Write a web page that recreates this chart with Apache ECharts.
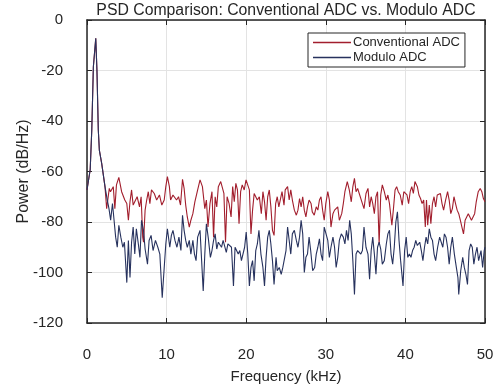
<!DOCTYPE html>
<html>
<head>
<meta charset="UTF-8">
<title>PSD Comparison</title>
<script src="https://cdn.jsdelivr.net/npm/echarts@6/dist/echarts.min.js"></script>
<style>
html, body { margin: 0; padding: 0; background: #fff; }
#main { width: 503px; height: 389px; }
</style>
</head>
<body>
<div id="main"></div>
<script>
// frequency (kHz) and power (dB/Hz)
var convFreq = [0, 0.4, 0.6, 0.8, 1.1, 1.25, 1.42, 1.55, 1.84, 2.26, 2.47, 2.8, 2.95, 3.3, 3.5, 3.7, 4.0, 4.35, 4.55, 4.75,
	5.0, 5.2, 5.4, 5.6, 5.8, 6.0, 6.3, 6.6, 6.8, 7.0, 7.1, 7.3, 7.5, 7.7, 7.9, 8.1, 8.45, 8.75, 9.1, 9.4,
	9.7, 9.9, 10.1, 10.35, 10.5, 10.8, 11.0, 11.25, 11.5, 11.75, 12.0, 12.2, 12.4, 12.6, 12.85, 13.05, 13.3, 13.55, 13.85, 14.2,
	14.5, 14.8, 15.0, 15.2, 15.45, 15.7, 15.9, 16.1, 16.3, 16.5, 16.8, 17.0, 17.2, 17.4, 17.6, 17.85, 18.1, 18.3, 18.5, 18.7,
	18.9, 19.1, 19.3, 19.5, 19.75, 19.98, 20.2, 20.4, 20.6, 20.8, 21.0, 21.2, 21.4, 21.65, 21.9, 22.1, 22.3, 22.5, 22.7, 22.9,
	23.1, 23.3, 23.5, 23.7, 23.9, 24.1, 24.3, 24.5, 24.75, 24.9, 25.2, 25.4, 25.6, 25.8, 26.05, 26.3, 26.5, 26.7, 26.9, 27.1,
	27.3, 27.5, 27.7, 27.9, 28.15, 28.3, 28.55, 28.8, 29.0, 29.2, 29.4, 29.6, 29.8, 30.0, 30.25, 30.45, 30.65, 30.9, 31.1, 31.3,
	31.5, 31.7, 32.0, 32.2, 32.4, 32.7, 32.95, 33.2, 33.4, 33.6, 33.8, 34.0, 34.2, 34.4, 34.6, 34.8, 35.05, 35.3, 35.5, 35.7,
	35.9, 36.1, 36.3, 36.5, 36.7, 36.9, 37.1, 37.35, 37.6, 37.8, 38.0, 38.2, 38.3, 38.5, 38.7, 38.9, 39.1, 39.35, 39.6, 39.8,
	40.0, 40.2, 40.4, 40.6, 40.8, 41.0, 41.2, 41.5, 41.7, 41.9, 42.1, 42.3, 42.5, 42.65, 42.8, 43.0, 43.2, 43.4, 43.6, 43.8,
	44.0, 44.2, 44.4, 44.6, 44.8, 45.05, 45.3, 45.5, 45.7, 45.9, 46.1, 46.3, 46.5, 46.7, 46.9, 47.1, 47.3, 47.5, 47.7, 47.9,
	48.1, 48.3, 48.5, 48.7, 48.9, 49.15, 49.4, 49.6, 49.8, 50.0];
var convPsd = [-67.3, -59.3, -43.6, -18.5, -7.2, -20, -43.6, -51.5, -56.7, -66, -74.7, -66.7, -68, -66, -74.7, -65.3, -62.3, -68, -67.3, -71.3,
	-72.7, -79.3, -72, -67.3, -73.3, -72.7, -70, -74, -70, -86, -88, -75.3, -71.3, -68, -72.7, -67.3, -68.7, -71.3, -69.3, -73.3,
	-71.3, -66, -62, -66, -71.3, -69.3, -70, -71.3, -70, -73.3, -63.1, -66.7, -73.3, -78, -82, -79.3, -76.7, -72, -68, -63.3,
	-66, -74.7, -71.3, -82, -72.7, -68, -86, -70, -74, -66, -64, -64, -68.7, -88, -70, -72.7, -78, -66, -72, -64.7,
	-67.3, -80.7, -68, -65.3, -67.3, -63.3, -64, -67.3, -84.7, -75.3, -68.7, -68, -71.3, -70, -76.7, -68, -72, -79.3, -70, -67.3,
	-74, -83.3, -85.3, -72.7, -70, -74, -74.7, -68, -73.3, -67.3, -66, -71.3, -67.3, -71.3, -75.3, -77.3, -75.3, -70.7, -74, -70,
	-75.3, -78, -74, -71.3, -72.7, -76, -77.3, -74, -75.3, -71.3, -70, -75.3, -79.3, -72.7, -68, -71.3, -82, -76.7, -75.3, -76,
	-74, -79.3, -76.7, -72.7, -68, -64, -67.3, -72, -66, -62.7, -68, -66.7, -68.7, -68, -72.7, -74.7, -68.7, -66.7, -74, -70,
	-72.7, -76.7, -70, -68, -88.7, -69.3, -65.3, -68, -71.3, -69.3, -72.7, -72, -81.3, -74.7, -67.3, -66, -68, -69.3, -73.3, -68,
	-67.3, -69.3, -72.7, -68, -66, -68.7, -64, -66, -69.3, -70.7, -72.7, -71.3, -82, -71.3, -81.3, -73.3, -80.7, -72.7, -70, -74,
	-69.3, -70, -68.7, -72.7, -75.3, -71.3, -68, -71.3, -76.7, -74.7, -70, -72.7, -75.3, -76.7, -79.3, -82, -84.7, -79.3, -78.7, -76.7,
	-76.7, -79.3, -80, -76.7, -72, -68, -66.7, -68, -70.7, -72];

var moduloFreq = [0, 0.4, 0.6, 0.8, 1.1, 1.25, 1.42, 1.55, 1.84, 2.26, 2.55, 2.76, 2.97, 3.2, 3.4, 3.6, 3.8, 4.0, 4.25, 4.5,
	4.7, 5.0, 5.2, 5.4, 5.6, 5.8, 6.0, 6.2, 6.45, 6.65, 6.85, 7.1, 7.3, 7.6, 7.8, 8.05, 8.3, 8.6, 8.9, 9.15,
	9.45, 9.7, 9.9, 10.1, 10.4, 10.6, 10.8, 11.05, 11.3, 11.55, 11.8, 12.0, 12.2, 12.4, 12.6, 12.85, 13.05, 13.3, 13.5, 13.7,
	13.9, 14.2, 14.4, 14.6, 14.8, 15.0, 15.25, 15.5, 15.7, 15.9, 16.1, 16.3, 16.5, 16.7, 16.9, 17.1, 17.3, 17.5, 17.7, 17.9,
	18.15, 18.4, 18.6, 18.8, 19.0, 19.2, 19.4, 19.6, 19.8, 20.0, 20.2, 20.4, 20.6, 20.8, 21.0, 21.2, 21.4, 21.6, 21.85, 22.1,
	22.3, 22.5, 22.7, 22.9, 23.1, 23.3, 23.5, 23.75, 23.9, 24.15, 24.4, 24.6, 24.8, 25.0, 25.2, 25.4, 25.6, 25.8, 26.05, 26.3,
	26.5, 26.7, 26.9, 27.1, 27.3, 27.5, 27.7, 27.9, 28.1, 28.35, 28.6, 28.8, 29.0, 29.2, 29.4, 29.6, 29.8, 30.0, 30.25, 30.45,
	30.65, 30.9, 31.1, 31.3, 31.5, 31.7, 31.95, 32.2, 32.4, 32.6, 32.8, 33.0, 33.2, 33.4, 33.6, 33.8, 34.0, 34.2, 34.4, 34.6,
	34.8, 35.05, 35.3, 35.5, 35.7, 35.9, 36.1, 36.3, 36.5, 36.7, 36.9, 37.1, 37.35, 37.6, 37.8, 38.0, 38.2, 38.4, 38.6, 38.8,
	39.0, 39.2, 39.4, 39.7, 39.9, 40.1, 40.3, 40.5, 40.7, 40.9, 41.1, 41.3, 41.5, 41.8, 42.0, 42.2, 42.4, 42.6, 42.8, 43.0,
	43.2, 43.4, 43.6, 43.8, 44.05, 44.3, 44.5, 44.7, 44.9, 45.1, 45.3, 45.5, 45.7, 45.9, 46.15, 46.4, 46.6, 46.7, 46.95, 47.2,
	47.4, 47.6, 47.8, 48.0, 48.2, 48.4, 48.6, 48.8, 49.0, 49.2, 49.5, 49.7, 49.9, 50.0];
var moduloPsd = [-67.3, -59.3, -43.6, -18.5, -7.2, -20, -43.6, -51.5, -56.7, -66, -71.3, -74.7, -79.3, -72.7, -79.3, -86, -90, -81.3, -86, -90,
	-88, -104, -87.3, -102, -88, -82, -92.7, -82.7, -88.7, -94, -79.3, -83.3, -90.7, -96.7, -87.3, -85.3, -91.3, -87.3, -90, -92.7,
	-110, -98, -88.7, -82.7, -90, -85.3, -83.3, -87.3, -90, -86, -91.3, -77.3, -83.3, -87.3, -90, -87.3, -92.7, -87.3, -92.7, -95.3,
	-86, -83.3, -95.3, -107.3, -92.7, -80.7, -86.7, -94, -91.3, -87.3, -84.7, -90.7, -88, -88.7, -90, -87.3, -86.7, -92, -88.7, -88,
	-90, -105.3, -90, -90, -92.7, -91.3, -95.3, -95.3, -90, -84, -92.7, -105.3, -98, -95.3, -103.3, -91.3, -88.7, -83.3, -92.7, -98,
	-105.3, -94, -86, -83.3, -88.7, -95.3, -104.7, -94, -99.3, -98, -100.7, -98, -98.7, -91.3, -82, -87.3, -92.7, -84.7, -83.3, -87.3,
	-90, -86, -79.3, -84.7, -100, -94, -92.7, -86, -91.3, -99.3, -98, -92.7, -90, -86.7, -92.7, -95.3, -82, -81.3, -87.3, -94,
	-90, -86, -90, -98, -94, -87.3, -84.7, -86, -88.7, -83.3, -87.3, -79.3, -84.7, -95.3, -108.7, -92.7, -91.3, -90.7, -92.7, -91.3,
	-82, -90, -92.7, -102.7, -91.3, -86, -92.7, -100.7, -90, -88, -90.7, -96.7, -95.3, -88.7, -84.7, -83.3, -92.7, -96.7, -90, -80,
	-76, -87.3, -95.3, -105.3, -91.3, -86, -94, -92.7, -94, -91.3, -90, -87.3, -89.3, -88, -91.3, -95.3, -90, -86, -88.7, -82.7,
	-86, -87.3, -92.7, -95.3, -90, -86, -85.3, -90, -84.7, -86, -90, -96.7, -90, -86, -92.7, -98, -102, -108.7, -99.3, -94,
	-98, -100.7, -104.7, -91.3, -88.7, -90, -96.7, -92.7, -90, -95.3, -91.3, -98, -91.3, -90];

var xTicks = { min: 0, max: 50, step: 10 };
var yTicks = { min: -120, max: 0, step: 20 };

function pairs(xs, ys) {
	var out = [];
	for (var i = 0; i < xs.length; i++) {
		out.push([xs[i], ys[i]]);
	}
	return out;
}

var txt = '#262626';
var font = "'Liberation Sans', Arial, sans-serif";
var myChart = echarts.init(document.getElementById('main'), null, { renderer: 'canvas' });

// box around the plot: all four axes, ticks pointing in
var boxLine = { show: true, onZero: false, lineStyle: { color: '#262626', width: 1.5 } };
var inTick = { show: true, inside: true, length: 5, lineStyle: { color: '#262626', width: 1 } };

var option = {
	animation: false,
	backgroundColor: '#ffffff',
	textStyle: { fontFamily: font },
	title: {
		text: 'PSD Comparison: Conventional ADC vs. Modulo ADC',
		left: 281,
		textAlign: 'center',
		top: -2,
		textStyle: { fontFamily: font, fontSize: 15.8, fontWeight: 'normal', color: txt }
	},
	legend: {
		orient: 'vertical',
		left: 308,
		top: 33,
		padding: [3, 5, 3, 5],
		itemGap: 2,
		itemWidth: 38,
		itemHeight: 1.5,
		icon: 'rect',
		borderColor: '#262626',
		borderWidth: 1,
		backgroundColor: '#ffffff',
		textStyle: { fontFamily: font, fontSize: 13, color: txt, padding: [0, 0, 0, -3] },
		data: ['Conventional ADC', 'Modulo ADC']
	},
	grid: { left: 87, right: 18, top: 20, bottom: 66, containLabel: false, outerBoundsMode: 'none' },
	xAxis: [{
		type: 'value',
		min: xTicks.min, max: xTicks.max, interval: xTicks.step,
		name: 'Frequency (kHz)',
		nameLocation: 'middle',
		nameGap: 46,
		nameMoveOverlap: false,
		nameTextStyle: { fontFamily: font, fontSize: 15, color: txt },
		axisLine: boxLine,
		axisTick: inTick,
		axisLabel: { margin: 24, fontFamily: font, fontSize: 15, color: txt },
		splitLine: { show: true, lineStyle: { color: '#e3e3e3', width: 1 } }
	}, {
		type: 'value',
		position: 'top',
		min: xTicks.min, max: xTicks.max, interval: xTicks.step,
		axisLine: boxLine,
		axisTick: inTick,
		axisLabel: { show: false },
		splitLine: { show: false }
	}],
	yAxis: [{
		type: 'value',
		min: yTicks.min, max: yTicks.max, interval: yTicks.step,
		name: 'Power (dB/Hz)',
		nameLocation: 'middle',
		nameGap: 55,
		nameMoveOverlap: false,
		nameTextStyle: { fontFamily: font, fontSize: 16, color: txt },
		axisLine: boxLine,
		axisTick: inTick,
		axisLabel: { margin: 24, fontFamily: font, fontSize: 15, color: txt },
		splitLine: { show: true, lineStyle: { color: '#e3e3e3', width: 1 } }
	}, {
		type: 'value',
		position: 'right',
		min: yTicks.min, max: yTicks.max, interval: yTicks.step,
		axisLine: boxLine,
		axisTick: inTick,
		axisLabel: { show: false },
		splitLine: { show: false }
	}],
	series: [{
		name: 'Conventional ADC',
		type: 'line',
		showSymbol: false,
		symbol: 'none',
		color: '#a21e2d',
		lineStyle: { width: 1.1, color: '#a21e2d' },
		data: pairs(convFreq, convPsd)
	}, {
		name: 'Modulo ADC',
		type: 'line',
		showSymbol: false,
		symbol: 'none',
		color: '#27325e',
		lineStyle: { width: 1.1, color: '#27325e' },
		data: pairs(moduloFreq, moduloPsd)
	}]
};
myChart.setOption(option);
</script>
</body>
</html>
